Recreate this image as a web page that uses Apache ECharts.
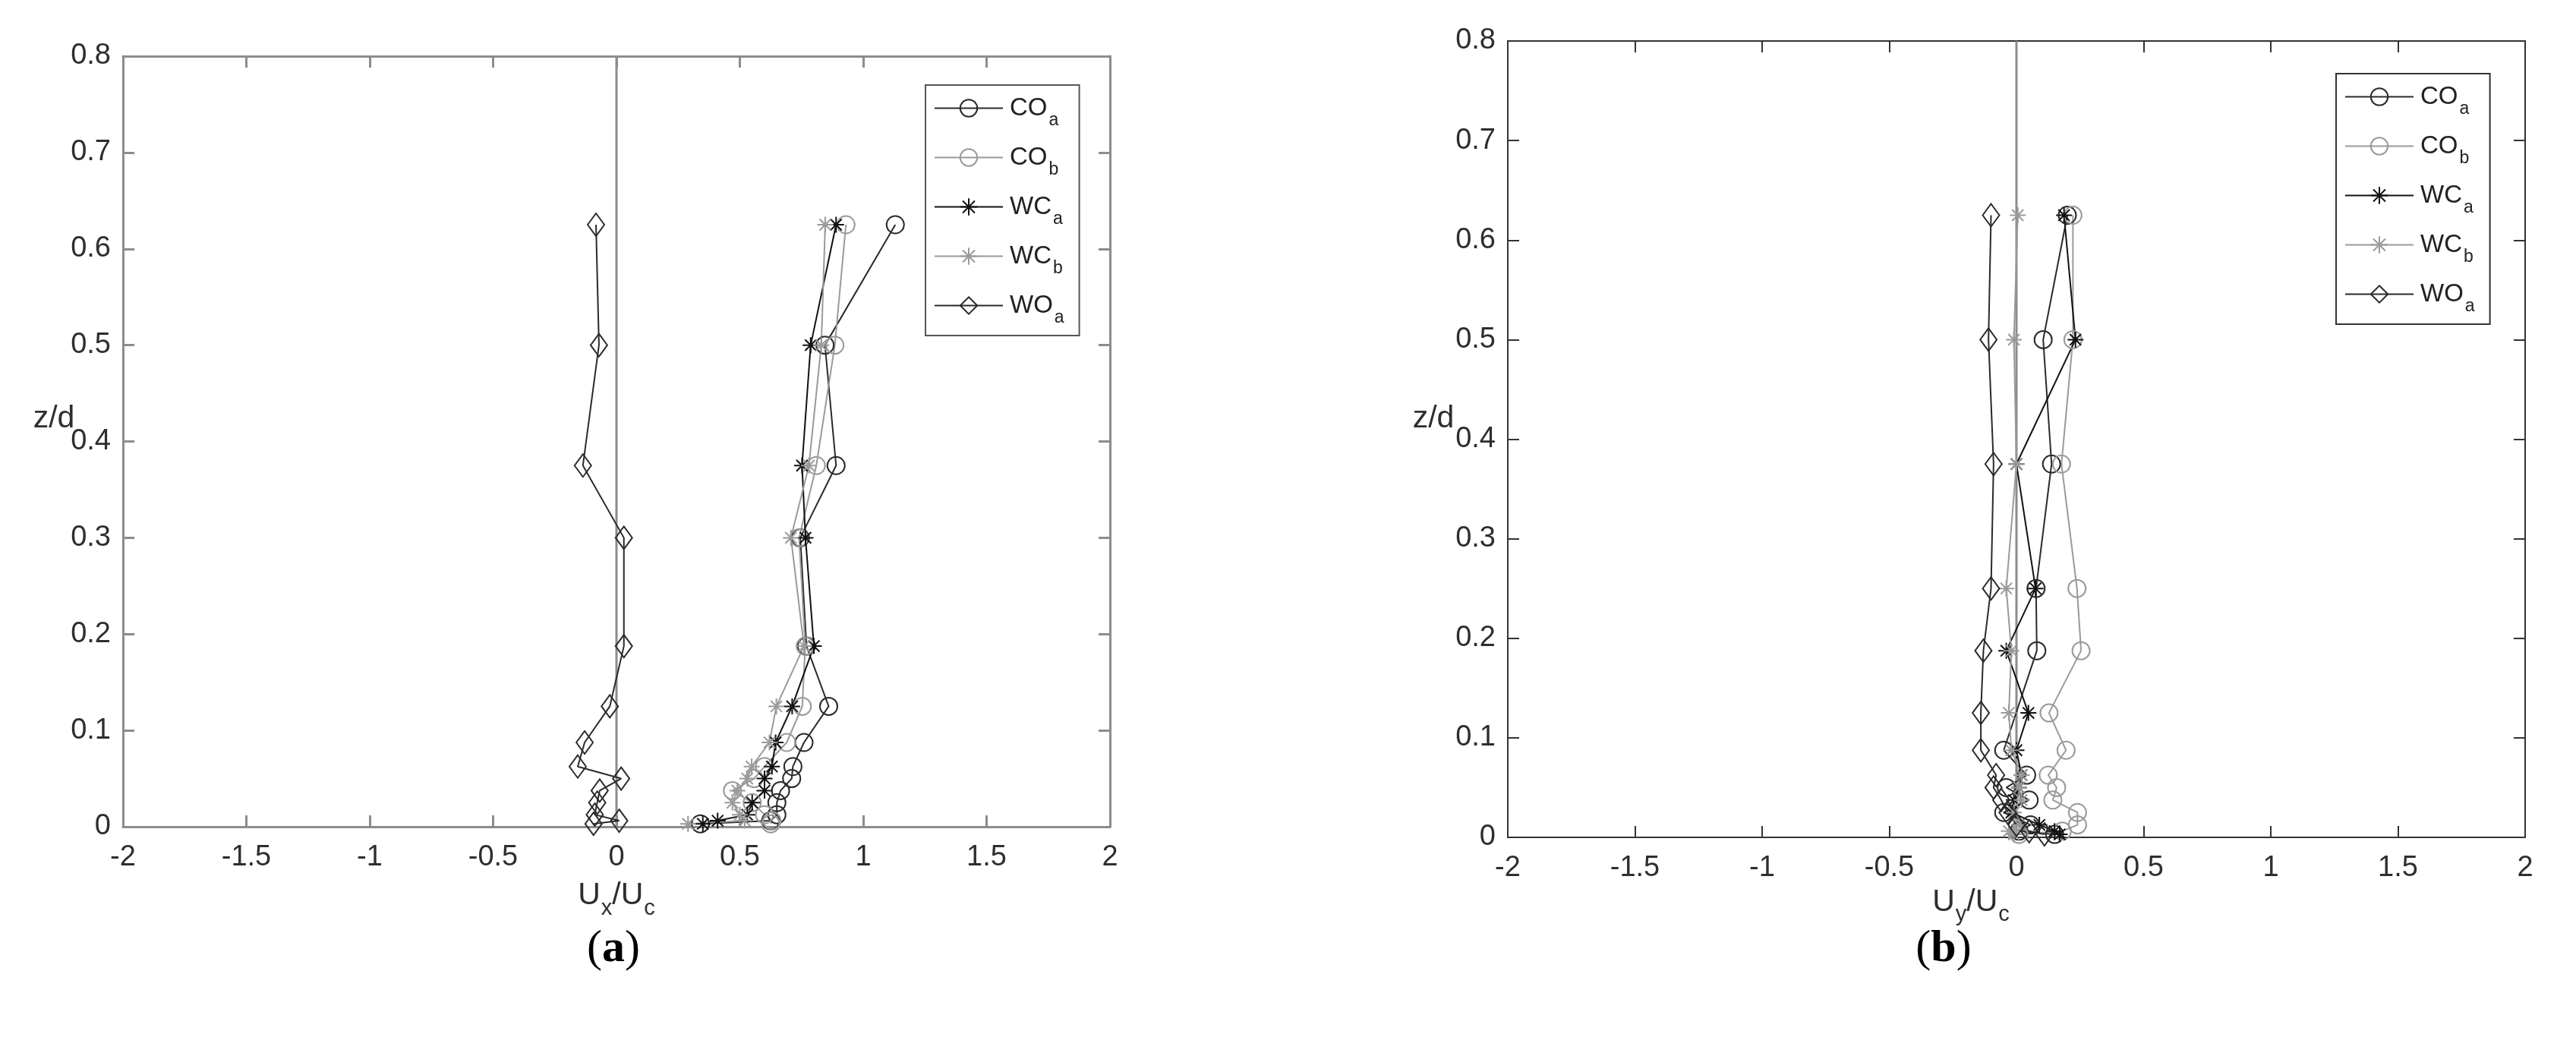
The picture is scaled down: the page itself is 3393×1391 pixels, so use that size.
<!DOCTYPE html>
<html><head><meta charset="utf-8">
<script src="https://cdn.jsdelivr.net/npm/echarts@6/dist/echarts.min.js"></script>
<style>html,body{margin:0;padding:0;background:#fff}#c{width:3393px;height:1391px}</style>
</head><body><div id="c"></div>
<script>
// ---------- data ----------
const seriesNames = ['COa', 'COb', 'WCa', 'WCb', 'WOa'];
const legendMain = ['CO', 'CO', 'WC', 'WC', 'WO'];
const legendSub = ['a', 'b', 'a', 'b', 'a'];

// panel (a): z/d levels and Ux/Uc values
const zLevelsA = [0.625, 0.5, 0.375, 0.3, 0.1875, 0.125, 0.0875, 0.0625, 0.05, 0.0375, 0.025, 0.0125, 0.00625, 0.003];
const uxCOa = [1.13, 0.845, 0.89, 0.745, 0.77, 0.86, 0.76, 0.715, 0.71, 0.665, 0.65, 0.65, 0.625, 0.34];
const uxCOb = [0.93, 0.885, 0.81, 0.74, 0.765, 0.753, 0.69, 0.60, 0.558, 0.47, 0.55, 0.60, 0.63, 0.625];
const uxWCa = [0.89, 0.787, 0.752, 0.766, 0.80, 0.712, 0.645, 0.63, 0.60, 0.60, 0.55, 0.53, 0.41, 0.35];
const uxWCb = [0.846, 0.83, 0.78, 0.707, 0.76, 0.648, 0.62, 0.548, 0.53, 0.49, 0.47, 0.50, 0.52, 0.29];
const uxWOa = [-0.083, -0.071, -0.136, 0.03, 0.03, -0.027, -0.129, -0.157, 0.019, -0.068, -0.078, -0.088, 0.011, -0.093];

// panel (b): z/d levels and Uy/Uc values (null = no point)
const zLevelsB = [0.625, 0.5, 0.375, 0.25, 0.1875, 0.125, 0.0875, 0.0625, 0.05, 0.0375, 0.025, 0.0125, 0.00625, 0.003];
const uyCOa = [0.20, 0.105, 0.138, 0.077, 0.08, null, -0.05, 0.04, -0.04, 0.05, -0.05, 0.055, 0.01, 0.15];
const uyCOb = [0.222, 0.222, 0.177, 0.238, 0.254, 0.128, 0.195, 0.125, 0.158, 0.143, 0.24, 0.24, 0.18, 0.01];
const uyWCa = [0.187, 0.232, 0.0, 0.075, -0.04, 0.047, 0.0, 0.02, 0.01, -0.01, -0.02, 0.09, 0.15, 0.17];
const uyWCb = [0.005, -0.01, 0.0, -0.04, -0.02, -0.03, -0.02, 0.02, 0.01, 0.02, -0.01, 0.01, -0.03, -0.01];
const uyWOa = [-0.10, -0.11, -0.09, -0.10, -0.13, -0.14, -0.14, -0.08, -0.09, -0.06, -0.035, 0.0, 0.05, 0.11];

const zeroLine = [[0, 0], [0, 0.8]];
const xRange = [-2, 2], xStep = 0.5;
const yRange = [0, 0.8], yStep = 0.1;

// ---------- styling ----------
const FONT = 'Liberation Sans, Arial, sans-serif';
const ASTER = 'path://M10,0L10,20M0,10L20,10M2.9,2.9L17.1,17.1M2.9,17.1L17.1,2.9';
const black = '#2a2a2a', grey = '#9a9a9a';
const styleOf = {
  COa: { symbol: 'circle', size: 23, color: black },
  COb: { symbol: 'circle', size: 23, color: grey },
  WCa: { symbol: ASTER, size: 21, color: '#111' },
  WCb: { symbol: ASTER, size: 21, color: grey },
  WOa: { symbol: 'diamond', size: [22, 30], color: black }
};
const panelA = { COa: uxCOa, COb: uxCOb, WCa: uxWCa, WCb: uxWCb, WOa: uxWOa };
const panelB = { COa: uyCOa, COb: uyCOb, WCa: uyWCa, WCb: uyWCb, WOa: uyWOa };

function pairs(xs, zs) {
  return zs.map((z, i) => [xs[i], z]).filter(p => p[0] !== null);
}
function mkSeries(name, xs, zs, gi) {
  const s = styleOf[name];
  return {
    name, type: 'line', xAxisIndex: gi * 2, yAxisIndex: gi * 2,
    data: pairs(xs, zs), symbol: s.symbol, symbolSize: s.size,
    itemStyle: { color: 'transparent', borderColor: s.color, borderWidth: 2 },
    lineStyle: { color: s.color, width: 2 },
    emphasis: { disabled: true }, z: 3
  };
}
function axisPair(gi, col, w, isX) {
  const base = {
    type: 'value', gridIndex: gi,
    min: isX ? xRange[0] : yRange[0], max: isX ? xRange[1] : yRange[1],
    interval: isX ? xStep : yStep,
    splitLine: { show: false },
    axisLine: { show: true, onZero: false, lineStyle: { color: col, width: w } },
    axisTick: { show: true, inside: true, length: 15, lineStyle: { color: col, width: w } }
  };
  const main = Object.assign({}, base, {
    position: isX ? 'bottom' : 'left',
    axisLabel: { show: true, fontSize: 38, fontFamily: FONT, color: '#2e2e2e', margin: isX ? 22 : 16,
      formatter: v => String(Math.round(v * 10) / 10) }
  });
  const mirror = Object.assign({}, base, {
    position: isX ? 'top' : 'right', axisLabel: { show: false }
  });
  return [main, mirror];
}
const subRich = {
  m: { fontSize: 33, lineHeight: 33, fontFamily: FONT, color: '#222', verticalAlign: 'top', padding: [0, 0, 0, 4] },
  s: { fontSize: 23, lineHeight: 23, fontFamily: FONT, color: '#222', verticalAlign: 'top', padding: [21, 0, 0, 2] }
};
const nameRich = {
  m: { fontSize: 41, lineHeight: 41, fontFamily: FONT, color: '#2e2e2e', verticalAlign: 'top' },
  s: { fontSize: 29, lineHeight: 29, fontFamily: FONT, color: '#2e2e2e', verticalAlign: 'top', padding: [23, 0, 0, 1] }
};
function legendCfg(left, top, col, w) {
  return {
    orient: 'vertical', left, top, data: seriesNames,
    itemWidth: 90, itemHeight: 28, itemGap: 21,
    padding: [14, 20, 12, 11],
    borderColor: col, borderWidth: w, backgroundColor: '#fff',
    selectedMode: false,
    formatter: n => { const i = seriesNames.indexOf(n); return '{m|' + legendMain[i] + '}{s|' + legendSub[i] + '}'; },
    textStyle: { rich: subRich }
  };
}

const xA = axisPair(0, '#8c8c8c', 3, true), yA = axisPair(0, '#8c8c8c', 3, false);
const xB = axisPair(1, '#333', 2, true), yB = axisPair(1, '#333', 2, false);
xA[0].name = '{m|U}{s|x}{m|/U}{s|c}'; xA[0].nameLocation = 'middle'; xA[0].nameGap = 70;
xA[0].nameTextStyle = { rich: nameRich };
xB[0].name = '{m|U}{s|y}{m|/U}{s|c}'; xB[0].nameLocation = 'middle'; xB[0].nameGap = 62;
xB[0].nameTextStyle = { rich: nameRich, padding: [0, 120, 0, 0] };

const series = [];
series.push({ type: 'line', xAxisIndex: 0, yAxisIndex: 0, data: zeroLine, symbol: 'none', silent: true,
  lineStyle: { color: '#8c8c8c', width: 3 }, z: 2 });
series.push({ type: 'line', xAxisIndex: 2, yAxisIndex: 2, data: zeroLine, symbol: 'none', silent: true,
  lineStyle: { color: '#8c8c8c', width: 3 }, z: 2 });
seriesNames.forEach(n => series.push(mkSeries(n, panelA[n], zLevelsA, 0)));
seriesNames.forEach(n => series.push(mkSeries(n, panelB[n], zLevelsB, 1)));

const chart = echarts.init(document.getElementById('c'), null, { renderer: 'canvas' });
chart.setOption({
  animation: false,
  backgroundColor: '#fff',
  grid: [
    { left: 162, top: 74, width: 1300, height: 1015 },
    { left: 1986, top: 54, width: 1340, height: 1049 }
  ],
  xAxis: [xA[0], xA[1], xB[0], xB[1]],
  yAxis: [yA[0], yA[1], yB[0], yB[1]],
  legend: [legendCfg(1219, 112, '#555', 2), legendCfg(3077, 97, '#333', 2)],
  series,
  graphic: [
    { type: 'text', x: 71, y: 552, style: { text: 'z/d', font: '41px ' + FONT, fill: '#2e2e2e', textAlign: 'center', textVerticalAlign: 'middle' } },
    { type: 'text', x: 1888, y: 552, style: { text: 'z/d', font: '41px ' + FONT, fill: '#2e2e2e', textAlign: 'center', textVerticalAlign: 'middle' } },
    { type: 'text', x: 808, y: 1250, style: { text: '({b|a})', font: '60px Liberation Serif, Times New Roman, serif', fill: '#000', textAlign: 'center', textVerticalAlign: 'middle',
      rich: { b: { fontWeight: 'bold', fontSize: 60, fontFamily: 'Liberation Serif, Times New Roman, serif', fill: '#000' } } } },
    { type: 'text', x: 2560, y: 1250, style: { text: '({b|b})', font: '60px Liberation Serif, Times New Roman, serif', fill: '#000', textAlign: 'center', textVerticalAlign: 'middle',
      rich: { b: { fontWeight: 'bold', fontSize: 60, fontFamily: 'Liberation Serif, Times New Roman, serif', fill: '#000' } } } }
  ]
});
</script></body></html>
